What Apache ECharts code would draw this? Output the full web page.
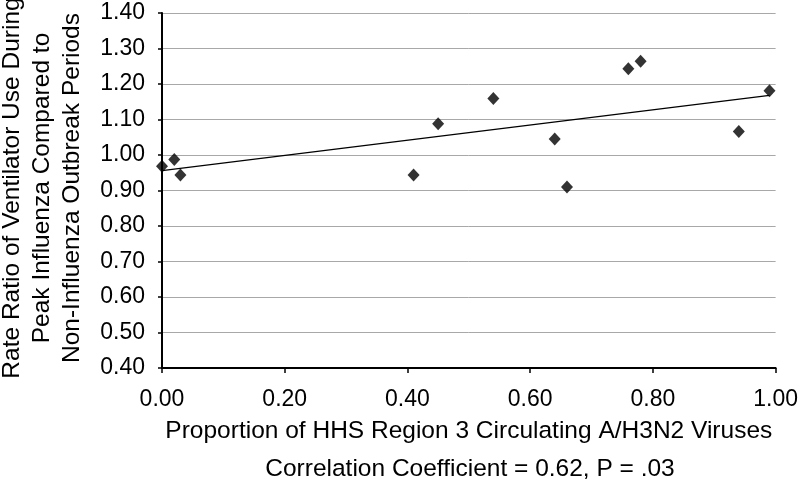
<!DOCTYPE html>
<html><head><meta charset="utf-8">
<script src="https://cdn.jsdelivr.net/npm/echarts@6/dist/echarts.min.js"></script>
<style>html,body{margin:0;padding:0;background:#fff}#c{width:801px;height:483px}</style>
</head><body><div id="c"></div>
<script>
const xValues = [0.00, 0.02, 0.03, 0.41, 0.45, 0.54, 0.64, 0.66, 0.76, 0.78, 0.94, 0.99];
const yValues = [0.968, 0.987, 0.944, 0.944, 1.088, 1.159, 1.045, 0.910, 1.243, 1.264, 1.066, 1.181];
const trendX = [0.00, 0.99];
const trendY = [0.956, 1.168];
const yTitleLines = ['Rate Ratio of Ventilator Use During', 'Peak Influenza Compared to', 'Non-Influenza Outbreak Periods'];
const xTitle = 'Proportion of HHS Region 3 Circulating A/H3N2 Viruses';
const noteText = 'Correlation Coefficient = 0.62, P = .03';

const font = '"Liberation Sans", Arial, Helvetica, sans-serif';
const chart = echarts.init(document.getElementById('c'), null, {renderer: 'canvas'});
chart.setOption({
  animation: false,
  backgroundColor: '#fff',
  grid: {left: 162, right: 23, top: 13, bottom: 115, containLabel: false},
  xAxis: {
    type: 'value', min: 0, max: 1, interval: 0.2,
    name: xTitle, nameLocation: 'middle', nameGap: 51,
    nameTextStyle: {fontFamily: font, fontSize: 24.5, color: '#000'},
    axisLine: {show: true, onZero: false, lineStyle: {color: '#000', width: 2}},
    axisTick: {show: true, inside: false, length: 5, lineStyle: {color: '#000', width: 1.5}},
    axisLabel: {fontFamily: font, fontSize: 23, color: '#000', margin: 20, formatter: v => v.toFixed(2)},
    splitLine: {show: false}
  },
  yAxis: {
    type: 'value', min: 0.4, max: 1.4, interval: 0.1,
    axisLine: {show: true, onZero: false, lineStyle: {color: '#000', width: 2}},
    axisTick: {show: true, inside: false, length: 4, lineStyle: {color: '#000', width: 1.5}},
    axisLabel: {fontFamily: font, fontSize: 23, color: '#000', margin: 17, formatter: v => v.toFixed(2)},
    splitLine: {show: true, lineStyle: {color: '#a8a8a8', width: 1}}
  },
  graphic: [
    {type: 'text', x: 42, y: 188, rotation: Math.PI / 2,
     style: {text: yTitleLines.join('\n'), fontFamily: font, fontSize: 24.5, lineHeight: 30,
             fill: '#000', align: 'center', verticalAlign: 'middle'}},
    {type: 'text', x: 470, y: 469,
     style: {text: noteText, fontFamily: font, fontSize: 24.5, fill: '#000',
             align: 'center', verticalAlign: 'middle'}}
  ],
  series: [
    {type: 'line', data: trendX.map((x, i) => [x, trendY[i]]), showSymbol: false, symbol: 'none',
     lineStyle: {color: '#000', width: 1.4}, z: 2, silent: true},
    {type: 'scatter', data: xValues.map((x, i) => [x, yValues[i]]), symbol: 'diamond', symbolSize: [12, 13],
     itemStyle: {color: '#000'}, z: 3, clip: false}
  ]
});
</script></body></html>
